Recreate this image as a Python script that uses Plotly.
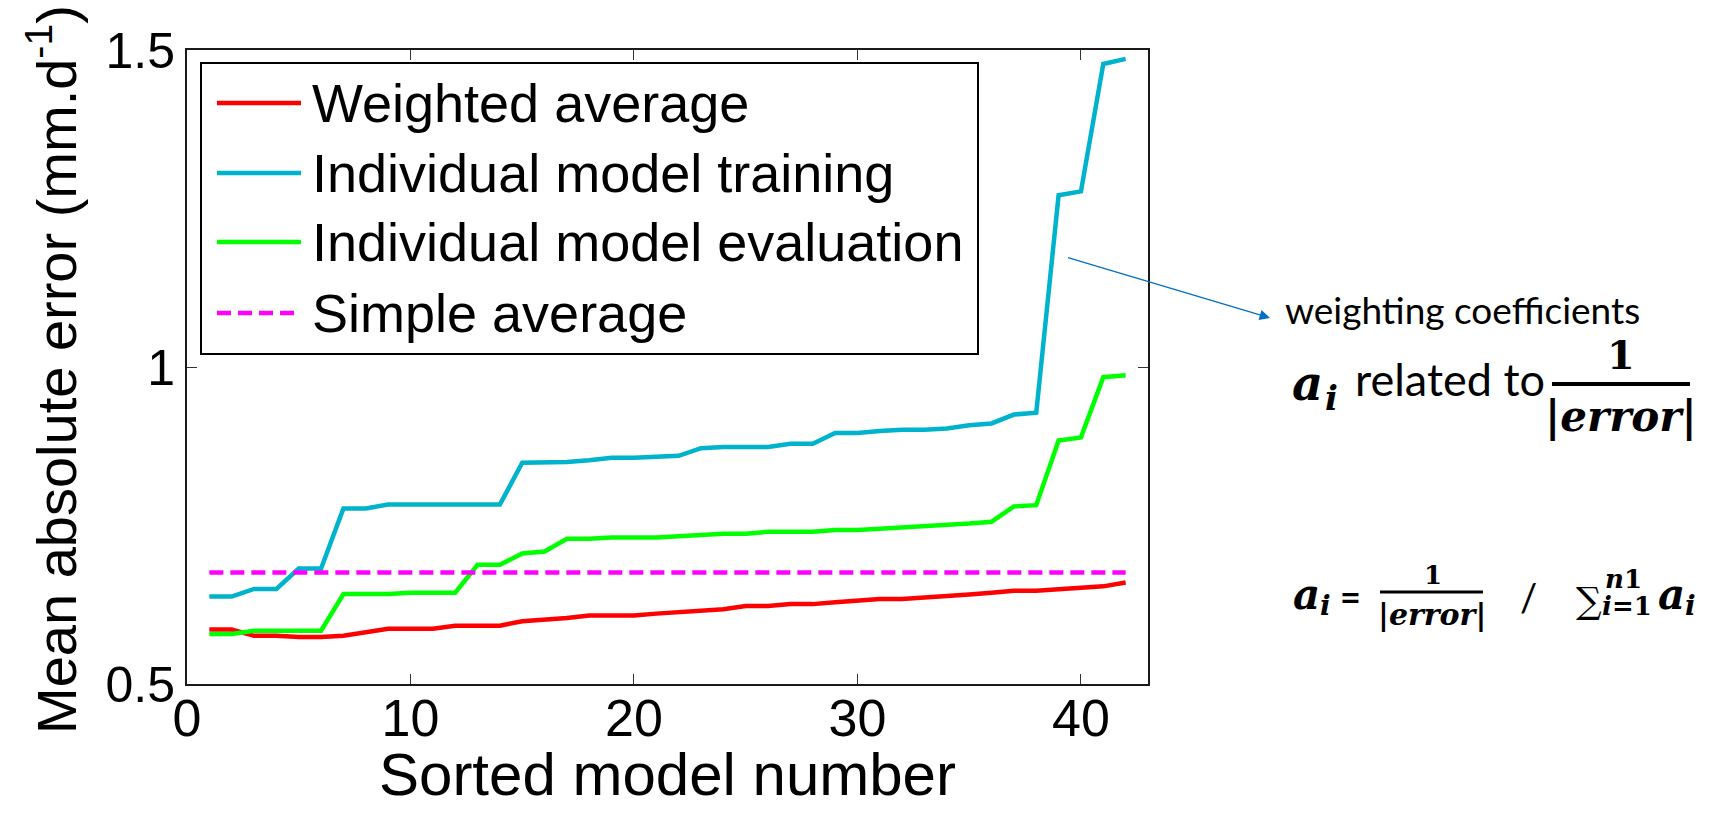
import plotly.graph_objects as go

# ---- data -------------------------------------------------------------
model_number = list(range(1, 43))

weighted_average = [
    0.586, 0.586, 0.576, 0.576, 0.574, 0.574, 0.576, 0.581, 0.587, 0.587,
    0.587, 0.592, 0.592, 0.592, 0.599, 0.601, 0.604, 0.608, 0.608, 0.608,
    0.611, 0.613, 0.616, 0.618, 0.623, 0.623, 0.626, 0.626, 0.629, 0.631,
    0.634, 0.634, 0.636, 0.639, 0.641, 0.644, 0.647, 0.647, 0.649, 0.652,
    0.654, 0.660,
]

individual_training = [
    0.638, 0.638, 0.650, 0.650, 0.682, 0.682, 0.777, 0.777, 0.783, 0.783,
    0.783, 0.783, 0.783, 0.783, 0.849, 0.850, 0.850, 0.853, 0.857, 0.857,
    0.859, 0.860, 0.872, 0.874, 0.874, 0.874, 0.879, 0.879, 0.896, 0.896,
    0.899, 0.901, 0.901, 0.903, 0.908, 0.911, 0.925, 0.928, 1.271, 1.277,
    1.478, 1.486,
]

individual_evaluation = [
    0.579, 0.579, 0.584, 0.584, 0.584, 0.584, 0.642, 0.642, 0.642, 0.644,
    0.644, 0.644, 0.688, 0.688, 0.706, 0.709, 0.729, 0.729, 0.731, 0.731,
    0.731, 0.733, 0.735, 0.737, 0.737, 0.740, 0.740, 0.740, 0.743, 0.743,
    0.745, 0.747, 0.748, 0.750, 0.753, 0.756, 0.780, 0.782, 0.884, 0.889,
    0.984, 0.987,
]

simple_average = 0.676

series_names = [
    "Weighted average",
    "Individual model training",
    "Individual model evaluation",
    "Simple average",
]

x_ticks = [0, 10, 20, 30, 40]
y_ticks = [0.5, 1, 1.5]
y_tick_text = ["0.5", "1", "1.5"]

# ---- layout geometry (pixels) ----------------------------------------
W, H = 1723, 814
L, R, T, B = 187, 575, 50, 130
PW = W - L - R
PH = H - T - B


def px(x):
    return (x - L) / PW


def py(y):
    return (H - B - y) / PH


RED = "#FF0000"
CYAN = "#00B3CC"
GREEN = "#00FF00"
MAGENTA = "#FF00FF"
ARIAL = "Arial, Liberation Sans, sans-serif"
CALIBRI = "Lato, Carlito, Calibri, sans-serif"
MATH = "DejaVu Serif, Liberation Serif, serif"
LW = 4.5

fig = go.Figure()

fig.add_trace(go.Scatter(x=model_number, y=weighted_average, mode="lines",
                         name=series_names[0], line=dict(color=RED, width=LW)))
fig.add_trace(go.Scatter(x=model_number, y=individual_training, mode="lines",
                         name=series_names[1], line=dict(color=CYAN, width=LW)))
fig.add_trace(go.Scatter(x=model_number, y=individual_evaluation, mode="lines",
                         name=series_names[2], line=dict(color=GREEN, width=LW)))
fig.add_trace(go.Scatter(x=[model_number[0], model_number[-1]],
                         y=[simple_average, simple_average], mode="lines",
                         name=series_names[3],
                         line=dict(color=MAGENTA, width=LW, dash="14px,7px")))

axis_common = dict(
    showline=True, linecolor="#1a1a1a", linewidth=2, mirror="ticks",
    ticks="inside", ticklen=10, tickwidth=1, tickcolor="#333333",
    showgrid=False, zeroline=False,
)

fig.update_xaxes(range=[0, 43], tickvals=x_ticks, ticklabelstandoff=-12,
                 tickfont=dict(family=ARIAL, size=52, color="black"),
                 **axis_common)
fig.update_yaxes(range=[0.5, 1.5], tickvals=y_ticks, ticktext=y_tick_text,
                 tickfont=dict(family=ARIAL, size=50, color="black"),
                 **axis_common)

shapes = []
annotations = []

# ---- legend box ------------------------------------------------------
shapes.append(dict(type="rect", xref="paper", yref="paper",
                   x0=px(201), x1=px(978), y0=py(63), y1=py(354),
                   line=dict(color="black", width=2), fillcolor="white",
                   layer="above"))
legend_rows = [103, 173, 242, 313]
legend_styles = [
    dict(color=RED, width=LW),
    dict(color=CYAN, width=LW),
    dict(color=GREEN, width=LW),
    dict(color=MAGENTA, width=LW, dash="14px,7px"),
]
for row_y, style, name in zip(legend_rows, legend_styles, series_names):
    shapes.append(dict(type="line", xref="paper", yref="paper",
                       x0=px(217), x1=px(301), y0=py(row_y), y1=py(row_y),
                       line=style, layer="above"))
    annotations.append(dict(xref="paper", yref="paper", x=px(310), y=py(row_y),
                            xanchor="left", yanchor="middle", showarrow=False,
                            text=name,
                            font=dict(family=ARIAL, size=54, color="black")))

# ---- axis titles -----------------------------------------------------
annotations.append(dict(xref="paper", yref="paper", x=px(667), y=py(810),
                        xanchor="center", yanchor="bottom", showarrow=False,
                        text="Sorted model number",
                        font=dict(family=ARIAL, size=60, color="black")))
annotations.append(dict(xref="paper", yref="paper", x=px(52), y=py(370),
                        xanchor="center", yanchor="middle", showarrow=False,
                        textangle=-90,
                        text="Mean absolute error (mm.d<sup>-1</sup>)",
                        font=dict(family=ARIAL, size=56, color="black")))

# ---- arrow and weighting notes ---------------------------------------
annotations.append(dict(xref="paper", yref="paper", x=px(1270), y=py(318),
                        ax=1066 - 1270, ay=257 - 318, axref="pixel", ayref="pixel",
                        showarrow=True, arrowhead=2, arrowsize=1.6,
                        arrowwidth=1.3, arrowcolor="#0070C0", standoff=0,
                        text=" ", font=dict(size=2)))
annotations.append(dict(xref="paper", yref="paper", x=px(1283), y=py(309),
                        xanchor="left", yanchor="middle", showarrow=False,
                        text="weighting coefficients",
                        font=dict(family=CALIBRI, size=37, color="black")))

# a_i related to 1/|error|
annotations.append(dict(xref="paper", yref="paper", x=px(1290), y=py(383),
                        xanchor="left", yanchor="middle", showarrow=False,
                        text="<b><i>a</i></b>",
                        font=dict(family=MATH, size=48, color="black")))
annotations.append(dict(xref="paper", yref="paper", x=px(1323), y=py(398),
                        xanchor="left", yanchor="middle", showarrow=False,
                        text="<b><i>i</i></b>",
                        font=dict(family=MATH, size=34, color="black")))
annotations.append(dict(xref="paper", yref="paper", x=px(1353), y=py(379),
                        xanchor="left", yanchor="middle", showarrow=False,
                        text="related to",
                        font=dict(family=CALIBRI, size=45, color="black")))
annotations.append(dict(xref="paper", yref="paper", x=px(1621), y=py(354),
                        xanchor="center", yanchor="middle", showarrow=False,
                        text="<b>1</b>",
                        font=dict(family=MATH, size=40, color="black")))
shapes.append(dict(type="line", xref="paper", yref="paper",
                   x0=px(1552), x1=px(1690), y0=py(384), y1=py(384),
                   line=dict(color="black", width=4)))
annotations.append(dict(xref="paper", yref="paper", x=px(1621), y=py(416),
                        xanchor="center", yanchor="middle", showarrow=False,
                        text="<b><i>|error|</i></b>",
                        font=dict(family=MATH, size=42, color="black")))

# a_i = (1/|error|) / sum a_i
annotations.append(dict(xref="paper", yref="paper", x=px(1291), y=py(594),
                        xanchor="left", yanchor="middle", showarrow=False,
                        text="<b><i>a</i></b>",
                        font=dict(family=MATH, size=42, color="black")))
annotations.append(dict(xref="paper", yref="paper", x=px(1318), y=py(605),
                        xanchor="left", yanchor="middle", showarrow=False,
                        text="<b><i>i</i></b>",
                        font=dict(family=MATH, size=28, color="black")))
annotations.append(dict(xref="paper", yref="paper", x=px(1350), y=py(596),
                        xanchor="center", yanchor="middle", showarrow=False,
                        text="<b>=</b>",
                        font=dict(family=CALIBRI, size=36, color="black")))
annotations.append(dict(xref="paper", yref="paper", x=px(1433), y=py(575),
                        xanchor="center", yanchor="middle", showarrow=False,
                        text="<b>1</b>",
                        font=dict(family=MATH, size=26, color="black")))
shapes.append(dict(type="line", xref="paper", yref="paper",
                   x0=px(1380), x1=px(1483), y0=py(592), y1=py(592),
                   line=dict(color="black", width=3)))
annotations.append(dict(xref="paper", yref="paper", x=px(1432), y=py(614),
                        xanchor="center", yanchor="middle", showarrow=False,
                        text="<b><i>|error|</i></b>",
                        font=dict(family=MATH, size=30, color="black")))
annotations.append(dict(xref="paper", yref="paper", x=px(1528), y=py(597),
                        xanchor="center", yanchor="middle", showarrow=False,
                        text="/",
                        font=dict(family=CALIBRI, size=38, color="black")))
annotations.append(dict(xref="paper", yref="paper", x=px(1589), y=py(600),
                        xanchor="center", yanchor="middle", showarrow=False,
                        text="\u2211",
                        font=dict(family=MATH, size=36, color="black")))
annotations.append(dict(xref="paper", yref="paper", x=px(1603), y=py(579),
                        xanchor="left", yanchor="middle", showarrow=False,
                        text="<b><i>n</i>1</b>",
                        font=dict(family=MATH, size=26, color="black")))
annotations.append(dict(xref="paper", yref="paper", x=px(1600), y=py(606),
                        xanchor="left", yanchor="middle", showarrow=False,
                        text="<b><i>i</i>=1</b>",
                        font=dict(family=MATH, size=26, color="black")))
annotations.append(dict(xref="paper", yref="paper", x=px(1656), y=py(594),
                        xanchor="left", yanchor="middle", showarrow=False,
                        text="<b><i>a</i></b>",
                        font=dict(family=MATH, size=42, color="black")))
annotations.append(dict(xref="paper", yref="paper", x=px(1683), y=py(605),
                        xanchor="left", yanchor="middle", showarrow=False,
                        text="<b><i>i</i></b>",
                        font=dict(family=MATH, size=28, color="black")))

fig.update_layout(
    width=W, height=H,
    margin=dict(l=L, r=R, t=T, b=B, autoexpand=False),
    paper_bgcolor="white", plot_bgcolor="white",
    showlegend=False,
    shapes=shapes, annotations=annotations,
)

fig.write_html("out.html")
